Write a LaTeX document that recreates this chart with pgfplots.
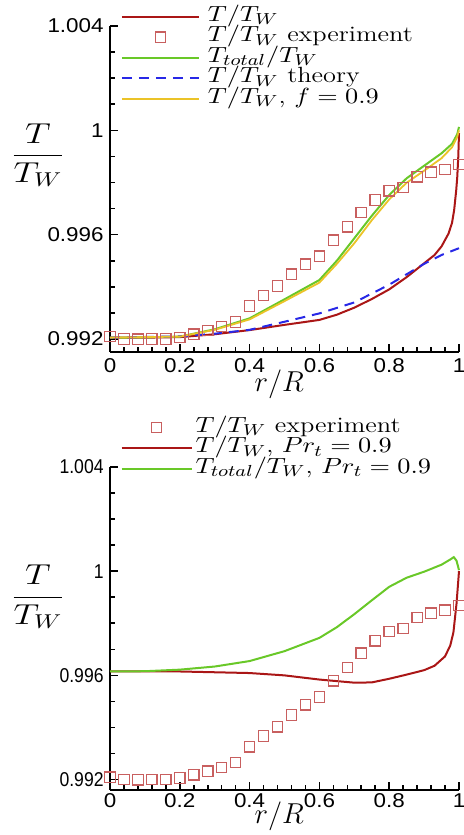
\documentclass[border=0pt]{standalone}
\usepackage{fontspec}
\usepackage{amsmath}
\usepackage{pgfplots}
\pgfplotsset{compat=1.18}
\usepackage{pgfplotstable}
\newfontfamily\tickfont{Liberation Sans}

\definecolor{dred}{RGB}{170,22,22}
\definecolor{expred}{RGB}{200,95,95}
\definecolor{lgreen}{RGB}{105,200,40}
\definecolor{tblue}{RGB}{40,40,230}
\definecolor{tyellow}{RGB}{235,195,40}

\newcommand{\wide}[1]{\scalebox{1.2}[1]{#1}}
\newcommand{\tk}[1]{\scalebox{1.12}[1]{#1}}
\newcommand{\tkn}[1]{\scalebox{0.88}[1]{#1}}

% experiment, same in both panels
\pgfplotstableread{
x y
0    0.99209
0.04 0.99200
0.08 0.99199
0.12 0.99200
0.16 0.99200
0.20 0.99206
0.24 0.99218
0.28 0.99232
0.32 0.99247
0.36 0.99265
0.40 0.99326
0.44 0.99367
0.48 0.99403
0.52 0.99448
0.56 0.99487
0.60 0.99517
0.64 0.99579
0.68 0.99630
0.72 0.99685
0.76 0.99733
0.80 0.99768
0.84 0.99780
0.88 0.99822
0.92 0.99839
0.96 0.99850
1.00 0.99869
}\expdata

\pgfplotstableread{
x y
0     0.99205
0.1   0.99205
0.2   0.99207
0.3   0.99218
0.4   0.99234
0.5   0.99254
0.6   0.99273
0.65  0.99293
0.7   0.99320
0.75  0.99353
0.8   0.99390
0.85  0.99437
0.9   0.99490
0.93  0.99522
0.95  0.99555
0.97  0.99604
0.98  0.99645
0.986 0.99693
0.992 0.99770
0.995 0.99821
0.998 0.99900
1.0   0.99989
}\redtop

\pgfplotstableread{
x y
0    0.99205
0.2  0.99210
0.3  0.99220
0.4  0.99235
0.5  0.99266
0.6  0.99298
0.7  0.99340
0.8  0.99408
0.9  0.99488
0.95 0.99522
1.0  0.99548
}\theory

\pgfplotstableread{
x y
0     0.99205
0.1   0.99206
0.2   0.99209
0.3   0.99237
0.4   0.99279
0.5   0.99352
0.6   0.99426
0.65  0.99500
0.7   0.99586
0.75  0.99672
0.8   0.99752
0.85  0.99816
0.9   0.99864
0.95  0.99912
0.98  0.99948
0.995 0.99985
1.0   1.00013
}\greentop

\pgfplotstableread{
x y
0     0.99205
0.2   0.99209
0.3   0.99235
0.4   0.99275
0.5   0.99345
0.6   0.99416
0.65  0.99488
0.7   0.99567
0.75  0.99655
0.8   0.99735
0.85  0.99799
0.9   0.99845
0.95  0.99893
0.98  0.99935
0.995 0.99975
1.0   1.00000
}\yellowtop

\pgfplotstableread{
x y
0     0.99615
0.2   0.99615
0.4   0.99609
0.5   0.99600
0.6   0.99584
0.7   0.99572
0.75  0.99573
0.8   0.99587
0.85  0.99603
0.9   0.99620
0.93  0.99637
0.96  0.99673
0.975 0.99715
0.984 0.99765
0.993 0.99877
1.0   1.00000
}\redbot

\pgfplotstableread{
x y
0     0.99615
0.1   0.99616
0.2   0.99622
0.3   0.99634
0.4   0.99655
0.5   0.99693
0.6   0.99744
0.65  0.99785
0.7   0.99835
0.75  0.99888
0.8   0.99940
0.85  0.99975
0.9   0.99998
0.95  1.00025
0.975 1.00045
0.985 1.00054
0.993 1.00040
1.0   1.00004
}\greenbot

\pgfplotsset{
  panel/.style={
    scale only axis, width=174.5pt,
    xmin=0, xmax=1,
    axis x line*=bottom, axis y line*=left,
    axis line style={-, line width=1pt},
    xtick={0,0.2,0.4,0.6,0.8,1},
    xticklabels={\tk{0},\tk{0.2},\tk{0.4},\tk{0.6},\tk{0.8},\tk{1}},
    ytick={0.992,0.996,1,1.004},
    minor x tick num=4, minor y tick num=3,
    tick align=inside, major tick length=4pt, minor tick length=2.5pt,
    tick style={black, line width=0.8pt},
    xticklabel style={font=\tickfont\fontsize{10}{12}\selectfont, inner sep=0pt, anchor=north},
    yticklabel style={font=\tickfont\fontsize{10}{12}\selectfont, inner sep=0pt, anchor=east, xshift=-3pt},
    xlabel={$r/R$},
    ylabel={\scalebox{1.25}[1]{$\dfrac{T}{T_W}$}},
    label style={font=\fontsize{14}{16}\selectfont},
    legend cell align=left,
    legend image code/.code={\draw[mark repeat=2,mark phase=2,#1] plot coordinates {(0pt,0pt) (19.25pt,0pt) (38.5pt,0pt)};},
    legend style={draw=none, fill=none, inner sep=0pt, anchor=north west,
      font=\fontsize{11}{11}\selectfont,
      nodes={inner sep=0pt, text height=7.5pt, text depth=2.75pt},
      row sep=0pt, /tikz/every odd column/.style={column sep=4pt}},
    clip=false,
  },
  expstyle/.style={only marks, mark=square, mark size=2.6pt, expred, mark options={line width=0.6pt}},
}

\begin{document}
\begin{tikzpicture}
\useasboundingbox (0,0) rectangle (231.5pt,417.5pt);

% upper panel
\begin{axis}[panel, at={(55pt,241.5pt)}, anchor=south west, height=163pt,
  ymin=0.9915, ymax=1.004,
  yticklabels={\tk{0.992},\tk{0.996},\tk{1},\tk{1.004}},
  xticklabel style={yshift=-3pt},
  xlabel style={at={(rel axis cs:0.485,0)}, anchor=center, yshift=-16pt},
  ylabel style={rotate=-90, at={(rel axis cs:0,0.604)}, anchor=center, xshift=-36pt},
  legend style={at={(rel axis cs:0.03,1)}, yshift=10pt}]
\addplot[dred, line width=1pt] table {\redtop};
\addlegendentry{\wide{$T/T_W$}}
\addplot[expstyle] table {\expdata};
\addlegendentry{\wide{$T/T_W$ experiment}}
\addplot[lgreen, line width=1pt] table {\greentop};
\addlegendentry{\wide{$T_{total}/T_W$}}
\addplot[tblue, line width=1pt, dash pattern=on 5pt off 3.5pt] table {\theory};
\addlegendentry{\wide{$T/T_W$ theory}}
\addplot[tyellow, line width=0.9pt] table {\yellowtop};
\addlegendentry{\wide{$T/T_W$, $f=0.9$}}
\end{axis}

% lower panel
\begin{axis}[panel, at={(55pt,22.5pt)}, anchor=south west, height=161.5pt,
  ymin=0.9916, ymax=1.004,
  yticklabels={\tkn{0.992},\tkn{0.996},\tkn{1},\tkn{1.004}},
  xticklabel style={yshift=-1.5pt},
  xlabel style={at={(rel axis cs:0.485,0)}, anchor=center, yshift=-13pt},
  ylabel style={rotate=-90, at={(rel axis cs:0,0.598)}, anchor=center, xshift=-36pt},
  legend image code/.code={\draw[mark repeat=2,mark phase=2,#1] plot coordinates {(0pt,0pt) (17.5pt,0pt) (35pt,0pt)};},
  legend style={at={(rel axis cs:0.029,1)}, yshift=25pt, /tikz/every odd column/.style={column sep=1.5pt}}]
\addplot[expstyle] table {\expdata};
\addlegendentry{\wide{$T/T_W$ experiment}}
\addplot[dred, line width=1pt] table {\redbot};
\addlegendentry{\wide{$T/T_W$, $Pr_t=0.9$}}
\addplot[lgreen, line width=1pt] table {\greenbot};
\addlegendentry{\wide{$T_{total}/T_W$, $Pr_t=0.9$}}
\end{axis}
\end{tikzpicture}
\end{document}
